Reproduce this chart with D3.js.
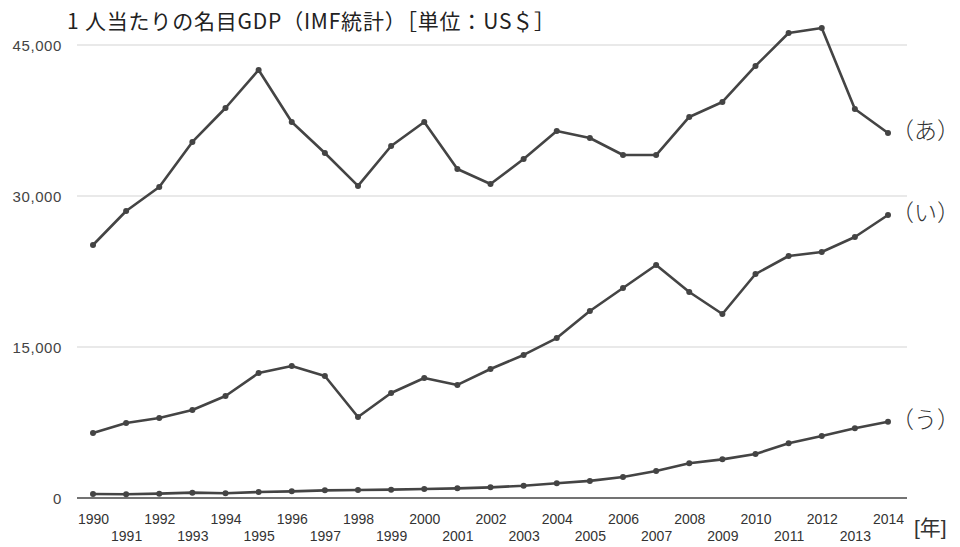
<!DOCTYPE html>
<html>
<head>
<meta charset="utf-8">
<script src="https://cdn.jsdelivr.net/npm/d3@7"></script>
<style>
	body { margin: 0; background: #fff; }
	svg { display: block; }
</style>
</head>
<body>
<div id="chart"></div>
<script>
(function () {

	"use strict";

	// years on the x axis
	var years = d3.range(1990, 2015);

	// (あ)
	var seriesA = [25130, 28510, 30900, 35370, 38740, 42520, 37350, 34270, 31000, 34970,
		37350, 32680, 31190, 33680, 36460, 35760, 34070, 34070, 37850, 39340,
		42920, 46190, 46690, 38640, 36260];

	// (い)
	var seriesI = [6460, 7450, 7950, 8740, 10130, 12420, 13110, 12120, 8050, 10430,
		11920, 11230, 12810, 14210, 15890, 18580, 20860, 23150, 20460, 18280,
		22250, 24040, 24440, 25930, 28110];

	// (う)
	var seriesU = [400, 380, 430, 530, 470, 590, 660, 760, 790, 830,
		900, 960, 1060, 1220, 1460, 1700, 2090, 2680, 3450, 3840,
		4370, 5430, 6160, 6920, 7580];

	var seriesLabels = ['（あ）', '（い）', '（う）'];
	var yTicks = [0, 15000, 30000, 45000];
	var title = '1 人当たりの名目GDP（IMF統計）［単位：US＄］';
	var unitLabel = '[年]';

	var width = 960,
		height = 547;

	var numFont = '"Liberation Sans", Helvetica, Arial, sans-serif';
	var jpFont = '"Noto Sans CJK JP", sans-serif';

	var svg = d3.select('#chart').append('svg')
		.attr('width', width)
		.attr('height', height);

	var x = d3.scaleLinear().domain([1990, 2014]).range([93, 888]);
	var y = d3.scaleLinear().domain([0, 45000]).range([498, 45]);

	//gridlines
	svg.append('g')
		.selectAll('line')
		.data(yTicks.filter(function (d) { return d > 0; }))
		.enter().append('line')
		.attr('x1', 77)
		.attr('x2', 907)
		.attr('y1', function (d) { return y(d); })
		.attr('y2', function (d) { return y(d); })
		.attr('stroke', '#d4d4d4')
		.attr('stroke-width', 1.2);

	//y axis labels
	var yAxis = d3.axisLeft(y)
		.tickValues(yTicks)
		.tickSize(0)
		.tickPadding(0)
		.tickFormat(d3.format(','));

	svg.append('g')
		.attr('transform', 'translate(62,0)')
		.call(yAxis)
		.call(function (g) { g.select('.domain').remove(); })
		.selectAll('text')
		.attr('dy', '0.35em')
		.style('font-family', numFont)
		.style('font-size', '15px')
		.style('letter-spacing', '0.6px')
		.style('fill', '#444');

	//baseline
	svg.append('line')
		.attr('x1', 77)
		.attr('x2', 907)
		.attr('y1', y(0))
		.attr('y2', y(0))
		.attr('stroke', '#444')
		.attr('stroke-width', 1.5);

	//x axis labels in two rows
	var xAxis = d3.axisBottom(x)
		.tickValues(years)
		.tickSize(0)
		.tickPadding(0)
		.tickFormat(d3.format('d'));

	var xg = svg.append('g')
		.attr('transform', 'translate(0,' + y(0) + ')')
		.call(xAxis)
		.call(function (g) { g.select('.domain').remove(); });

	xg.selectAll('text')
		.attr('y', function (d) { return d % 2 === 0 ? 21 : 38; })
		.attr('dy', '0.35em')
		.style('font-family', numFont)
		.style('font-size', '14px')
		.style('fill', '#333');

	svg.append('text')
		.attr('x', 914)
		.attr('y', 535)
		.text(unitLabel)
		.style('font-family', '"Liberation Sans", "Noto Sans CJK JP", sans-serif')
		.style('font-size', '21px')
		.style('fill', '#333');

	//title
	svg.append('text')
		.attr('x', 67)
		.attr('y', 29)
		.attr('textLength', 488)
		.attr('lengthAdjust', 'spacing')
		.text(title)
		.style('font-family', jpFont)
		.style('font-size', '21px')
		.style('fill', '#222');

	//lines
	var line = d3.line()
		.x(function (d, i) { return x(years[i]); })
		.y(function (d) { return y(d); });

	var allSeries = [seriesA, seriesI, seriesU];

	allSeries.forEach(function (values, k) {
		svg.append('path')
			.datum(values)
			.attr('d', line)
			.attr('fill', 'none')
			.attr('stroke', '#444')
			.attr('stroke-width', 2.6)
			.attr('stroke-linejoin', 'round');

		svg.append('g')
			.selectAll('circle')
			.data(values)
			.enter().append('circle')
			.attr('cx', function (d, i) { return x(years[i]); })
			.attr('cy', function (d) { return y(d); })
			.attr('r', 3)
			.attr('fill', '#444');

		svg.append('text')
			.attr('x', x(2014) + 3)
			.attr('y', y(values[values.length - 1]) - 2)
			.attr('dy', '0.35em')
			.text(seriesLabels[k])
			.style('font-family', jpFont)
			.style('font-weight', '300')
			.style('font-size', '23px')
			.style('fill', '#333');
	});

}).call(this);
</script>
</body>
</html>
